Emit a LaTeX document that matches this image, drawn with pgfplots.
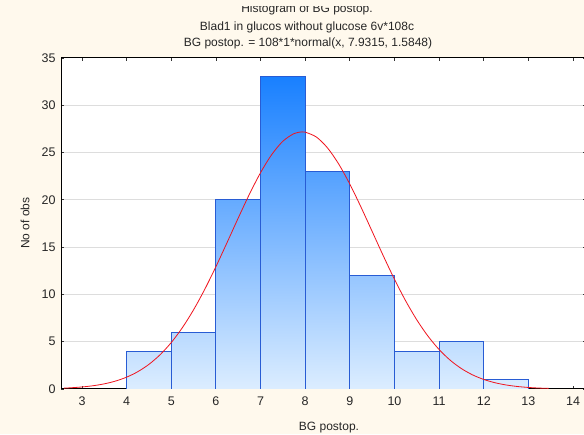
\documentclass[border=0pt]{standalone}
\usepackage{pgfplots}
\pgfplotsset{compat=1.18}
\usepackage{fontspec}
\setmainfont{Liberation Sans}

\definecolor{cream}{RGB}{255,249,237}
\definecolor{bartop}{RGB}{25,128,255}
\definecolor{barbot}{RGB}{220,237,255}
\definecolor{baredge}{RGB}{40,92,212}
\definecolor{gridgray}{RGB}{221,221,221}
\definecolor{curvered}{RGB}{240,20,30}

\pgfplotsset{
  hbar/.style = {
    ybar, bar width = 1, bar shift = 0pt,
    draw = baredge, line width = 0.9pt,
    bottom color = barbot,
  },
}

\begin{document}
\begin{tikzpicture}[x=1pt, y=1pt]
  \fill[cream] (0,0) rectangle (584,434);
  \begin{axis}[
    at = {(61pt,45pt)}, anchor = south west,
    scale only axis,
    width = 525pt, height = 331pt,
    xmin = 2.53, xmax = 14.29,
    ymin = 0, ymax = 35,
    xtick = {3,4,...,14},
    ytick = {0,5,...,35},
    ymajorgrids,
    major grid style = {gridgray, line width = 1pt},
    tick align = inside,
    major tick length = 3pt,
    tick style = {black!80, line width = 0.8pt},
    axis background/.style = {fill = white},
    axis line style = {black, line width = 1pt},
    x axis line style = {black!65, line width = 1.6pt},
    ticklabel style = {font = \fontsize{12.5}{14}\selectfont, text = black!85},
    /pgf/number format/assume math mode = true,
    yticklabel style = {xshift = -2pt},
    xticklabel style = {yshift = -4pt},
    clip = true,
  ]
    % histogram counts, one bar per class (top colour follows the height)
    \addplot[hbar, top color = bartop!12!barbot] coordinates {(4.5,4)};
    \addplot[hbar, top color = bartop!18!barbot] coordinates {(5.5,6)};
    \addplot[hbar, top color = bartop!61!barbot] coordinates {(6.5,20)};
    \addplot[hbar, top color = bartop!100!barbot] coordinates {(7.5,33)};
    \addplot[hbar, top color = bartop!70!barbot] coordinates {(8.5,23)};
    \addplot[hbar, top color = bartop!36!barbot] coordinates {(9.5,12)};
    \addplot[hbar, top color = bartop!12!barbot] coordinates {(10.5,4)};
    \addplot[hbar, top color = bartop!15!barbot] coordinates {(11.5,5)};
    \addplot[hbar, top color = bartop!3!barbot] coordinates {(12.5,1)};

    % fitted normal curve
    \addplot[curvered, line width = 0.8pt, smooth] coordinates {
      (2.6,0.09) (2.75,0.130) (3.0,0.215) (3.25,0.346) (3.5,0.545)
      (3.75,0.837) (4.0,1.253) (4.25,1.830) (4.5,2.608) (4.75,3.624)
      (5.0,4.914) (5.25,6.496) (5.5,8.379) (5.75,10.542) (6.0,12.936)
      (6.25,15.485) (6.5,18.080) (6.75,20.591) (7.0,22.874) (7.25,24.786)
      (7.5,26.198) (7.75,27.009) (7.93,27.187) (8.0,27.162) (8.25,26.644)
      (8.5,25.493) (8.75,23.792) (9.0,21.660) (9.25,19.234) (9.5,16.659)
      (9.75,14.076) (10.0,11.599) (10.25,9.324) (10.5,7.311) (10.75,5.591)
      (11.0,4.172) (11.25,3.036) (11.5,2.155) (11.75,1.492) (12.0,1.008)
      (12.25,0.664) (12.5,0.426) (12.75,0.267) (13.0,0.163) (13.25,0.097)
      (13.45,0.065)
    };
  \end{axis}

  \begin{scope}[every node/.style = {font = \fontsize{12}{14}\selectfont, text = black!85, inner sep = 0pt}]
    \node[anchor = base] at (307, 434-13) {Histogram of BG postop.};
    \node[anchor = base] at (307, 434-30.5) {Blad1 in glucos without glucose 6v*108c};
    \node[anchor = base] at (308, 434-46.5) {BG postop. = 108*1*normal(x, 7.9315, 1.5848)};
    \node[anchor = base] at (329, 434-430) {BG postop.};
    \node[rotate = 90] at (25, 434-223) {No of obs};
  \end{scope}
  % the top of the first title line is cut off in the original
  \fill[cream] (0,434-6.5) rectangle (584,434);

  \pgfresetboundingbox
  \path[use as bounding box] (0,0) rectangle (584,434);
\end{tikzpicture}
\end{document}
